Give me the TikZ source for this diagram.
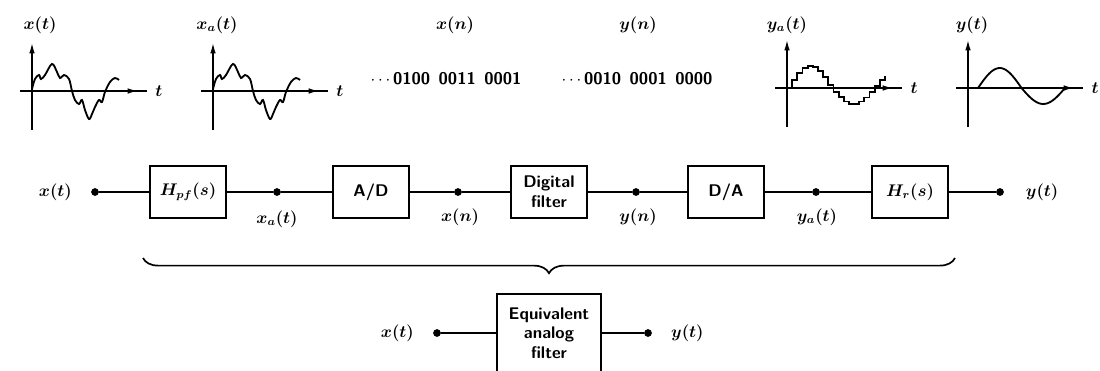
\documentclass[tikz,border=0pt]{standalone}
\usetikzlibrary{arrows.meta,positioning,decorations.pathreplacing}

\tikzset{
  blk/.style={draw, line width=1.2pt, minimum width=1.9cm, minimum height=1.3cm,
    align=center, font=\large\sffamily\bfseries\boldmath},
  pt/.style={circle, fill, inner sep=0pt, minimum size=5.5pt},
  lbl/.style={font=\large\boldmath},
  conn/.style={line width=1.3pt},
  sig/.style={line width=1.3pt},
  axis/.style={line width=1pt},
  brc/.style={line width=1.2pt, decorate,
    decoration={brace, mirror, amplitude=0.38cm}},
}

\begin{document}
\begin{tikzpicture}[x=0.025cm, y=-0.025cm]
    \useasboundingbox (0,0) rectangle (1100,370);

    % axes of the four small plots
    \foreach \ox/\oy/\nm in {32/91/a, 213/91/b, 787/88/c, 968/88/d} {
        \draw[axis] (\ox-12,\oy) -- (\ox+115,\oy);
        \draw[axis, -{Latex[length=2.6mm, width=1.4mm]}] (\ox-12,\oy) -- (\ox+106,\oy);
        \draw[axis, -{Latex[length=2.6mm, width=1.4mm]}] (\ox,\oy+39) -- (\ox,\oy-48);
        \node[lbl] (t\nm) at (\ox+127,\oy) {$t$};
    }

    % wiggly input, before and after the prefilter
    \foreach \ox in {32, 213} {
        \draw[sig, shift={(\ox,91)}] plot[smooth, tension=0.6] coordinates {
            (0,-2) (3,-12) (7,-16) (9,-12) (13,-16) (20,-27) (25,-19) (28,-13)
            (32,-16) (37,-12) (40,0) (43,9) (47,13) (50,9) (53,19) (57,28)
            (60,23) (63,16) (67,9) (70,11) (73,1) (78,-9) (83,-13) (87,-11)};
    }

    % staircase out of the D/A
    \draw[sig, shift={(787,88)}] plot[const plot, domain=0:98, samples=20]
        (\x, {-((\x<43) ? 22 : 16)*sin((360/86)*\x)});

    % smooth output
    \draw[sig, shift={(968,88)}] (0,0) -- (10,0)
        plot[smooth, domain=0:88, samples=40]
        ({10+\x}, {-((\x<43.5) ? 20 : 16)*sin((360/87)*\x)});

    % titles of the plots
    \node[lbl] (ttl1) at (40,25) {$x(t)$};
    \node[lbl] (ttl2) at (217,25) {$x_a(t)$};
    \node[lbl] (ttl3) at (455,25) {$x(n)$};
    \node[lbl] (ttl4) at (638,25) {$y(n)$};
    \node[lbl] (ttl5) at (787,25) {$y_a(t)$};
    \node[lbl] (ttl6) at (972,25) {$y(t)$};

    \node[lbl, font=\large\sffamily\bfseries] (bits1) at (446,79)
        {$\cdots$\,0100\enspace 0011\enspace 0001};
    \node[lbl, font=\large\sffamily\bfseries] (bits2) at (637,79)
        {$\cdots$\,0010\enspace 0001\enspace 0000};

    % the chain
    \node[pt] (xin) at (95,192) {};
    \node[lbl, left=10pt of xin] (xinl) {$x(t)$};
    \node[blk] (hpf) at (188,192) {$H_{pf}(s)$};
    \node[pt] (d1) at (277,192) {};
    \node[lbl] (d1l) at (277,219) {$x_a(t)$};
    \node[blk] (ad) at (371,192) {A/D};
    \node[pt] (d2) at (458,192) {};
    \node[lbl] (d2l) at (460,217) {$x(n)$};
    \node[blk] (df) at (549,192) {Digital\\filter};
    \node[pt] (d3) at (636,192) {};
    \node[lbl] (d3l) at (638,217) {$y(n)$};
    \node[blk] (da) at (726,192) {D/A};
    \node[pt] (d4) at (816,192) {};
    \node[lbl] (d4l) at (817,217) {$y_a(t)$};
    \node[blk] (hr) at (910,192) {$H_r(s)$};
    \node[pt] (yout) at (1000,192) {};
    \node[lbl, right=12pt of yout] (youtl) {$y(t)$};

    \draw[conn] (xin) -- (hpf) -- (d1) -- (ad) -- (d2) -- (df) -- (d3)
        -- (da) -- (d4) -- (hr) -- (yout);

    % brace under the chain
    \coordinate (bl) at (143,258);
    \coordinate (br) at (955,258);
    \draw[brc] (bl) -- (br);

    % equivalent filter
    \node[blk, minimum width=2.6cm, minimum height=1.95cm] (eq) at (549,333)
        {Equivalent\\analog\\filter};
    \node[pt] (ein) at (437,333) {};
    \node[lbl, left=10pt of ein] (einl) {$x(t)$};
    \node[pt] (eout) at (648,333) {};
    \node[lbl, right=10pt of eout] (eoutl) {$y(t)$};
    \draw[conn] (ein) -- (eq) -- (eout);
\end{tikzpicture}
\end{document}
